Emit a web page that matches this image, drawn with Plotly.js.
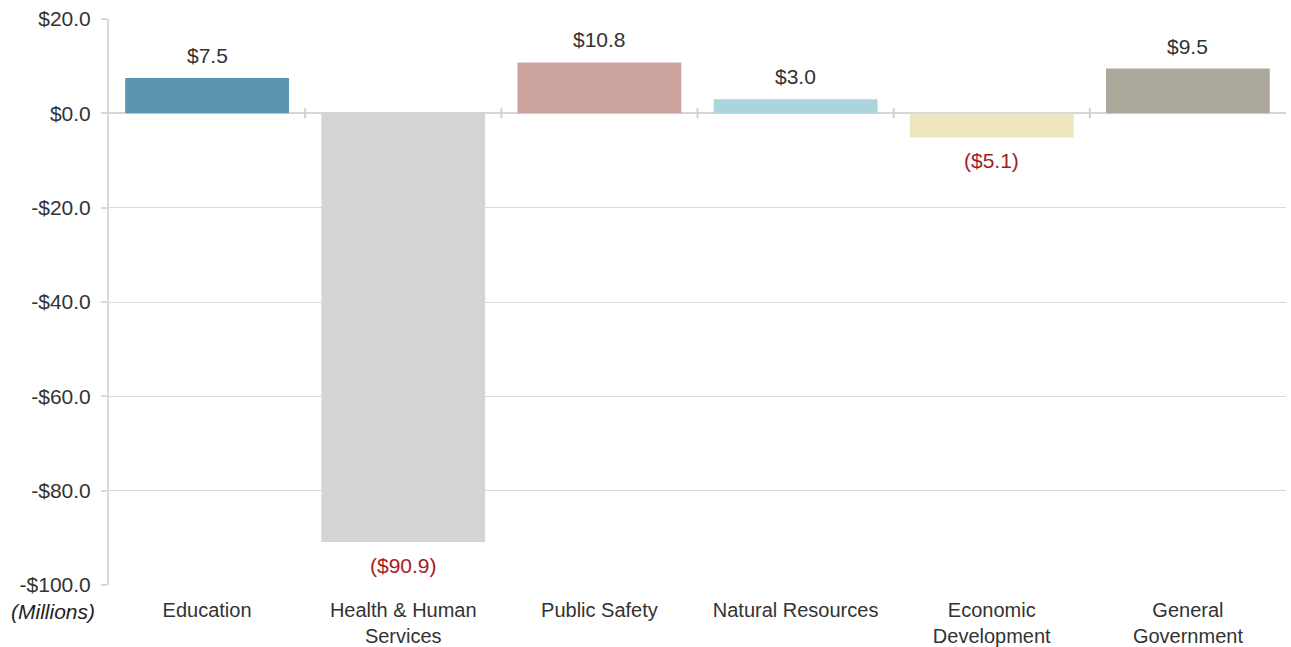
<!DOCTYPE html>
<html>
<head>
<meta charset="utf-8">
<script src="https://cdn.plot.ly/plotly-3.0.1.min.js"></script>
<style>html,body{margin:0;padding:0;background:#fff;}#chart{width:1291px;height:647px;}</style>
</head>
<body>
<div id="chart"></div>
<script>
var categories = ["Education", "Health & Human<br>Services", "Public Safety", "Natural Resources", "Economic<br>Development", "General<br>Government"];
var values = [7.5, -90.9, 10.8, 3.0, -5.1, 9.5];
var barColors = ["#5A96B0", "#D5D3D4", "#CBA49F", "#AAD5DC", "#ECE5BD", "#ADA89C"];
var yTickVals = [20, 0, -20, -40, -60, -80, -100];
var yTickText = ["$20.0", "$0.0", "-$20.0", "-$40.0", "-$60.0", "-$80.0", "-$100.0"];

var FONT = "Liberation Sans, Arial, sans-serif";
var FS = 21;
function fmt(v) { return v < 0 ? "($" + Math.abs(v).toFixed(1) + ")" : "$" + v.toFixed(1); }

var trace = {
  type: "bar",
  x: categories.map(function (c, i) { return i; }),
  y: values,
  marker: { color: barColors },
  hoverinfo: "none"
};

var annotations = values.map(function (v, i) {
  return {
    x: i, y: v, xref: "x", yref: "y",
    text: fmt(v), showarrow: false,
    yanchor: v < 0 ? "top" : "bottom",
    yshift: v < 0 ? -10 : 9,
    font: { family: FONT, size: FS, color: v < 0 ? "#A61C1C" : "#333333" }
  };
});
annotations.push({
  xref: "paper", yref: "paper", x: 0, y: 0, xanchor: "right", yanchor: "top",
  xshift: -12, yshift: -13,
  text: "<i>(Millions)</i>", showarrow: false,
  font: { family: FONT, size: FS, color: "#222222" }
});

var shapes = categories.slice(1).map(function (c, i) {
  return {
    type: "line", xref: "x", yref: "y", ysizemode: "pixel", yanchor: 0,
    x0: i + 0.5, x1: i + 0.5, y0: -5, y1: 5,
    line: { color: "#D0D0D0", width: 2 }
  };
});

var layout = {
  width: 1291, height: 647,
  margin: { l: 109, r: 5, t: 19, b: 62 },
  paper_bgcolor: "#ffffff", plot_bgcolor: "#ffffff",
  showlegend: false,
  bargap: 0.165,
  font: { family: FONT, size: FS, color: "#333333" },
  xaxis: {
    tickvals: categories.map(function (c, i) { return i; }),
    ticktext: categories,
    range: [-0.5, categories.length - 0.5],
    showgrid: false, zeroline: false, showline: false,
    ticks: "", ticklabelstandoff: 11,
    tickfont: { family: FONT, size: 20, color: "#333333" }
  },
  yaxis: {
    range: [-100, 20],
    tickvals: yTickVals, ticktext: yTickText,
    showgrid: true, gridcolor: "#D9D9D9", gridwidth: 1,
    zeroline: true, zerolinecolor: "#D6D6D6", zerolinewidth: 2,
    showline: true, linecolor: "#D9D9D9", linewidth: 2,
    ticks: "outside", ticklen: 6, tickcolor: "#D9D9D9", tickwidth: 2,
    ticklabelstandoff: 6,
    tickfont: { family: FONT, size: FS, color: "#333333" }
  },
  annotations: annotations,
  shapes: shapes
};

Plotly.newPlot("chart", [trace], layout, { displayModeBar: false, staticPlot: true });
</script>
</body>
</html>
